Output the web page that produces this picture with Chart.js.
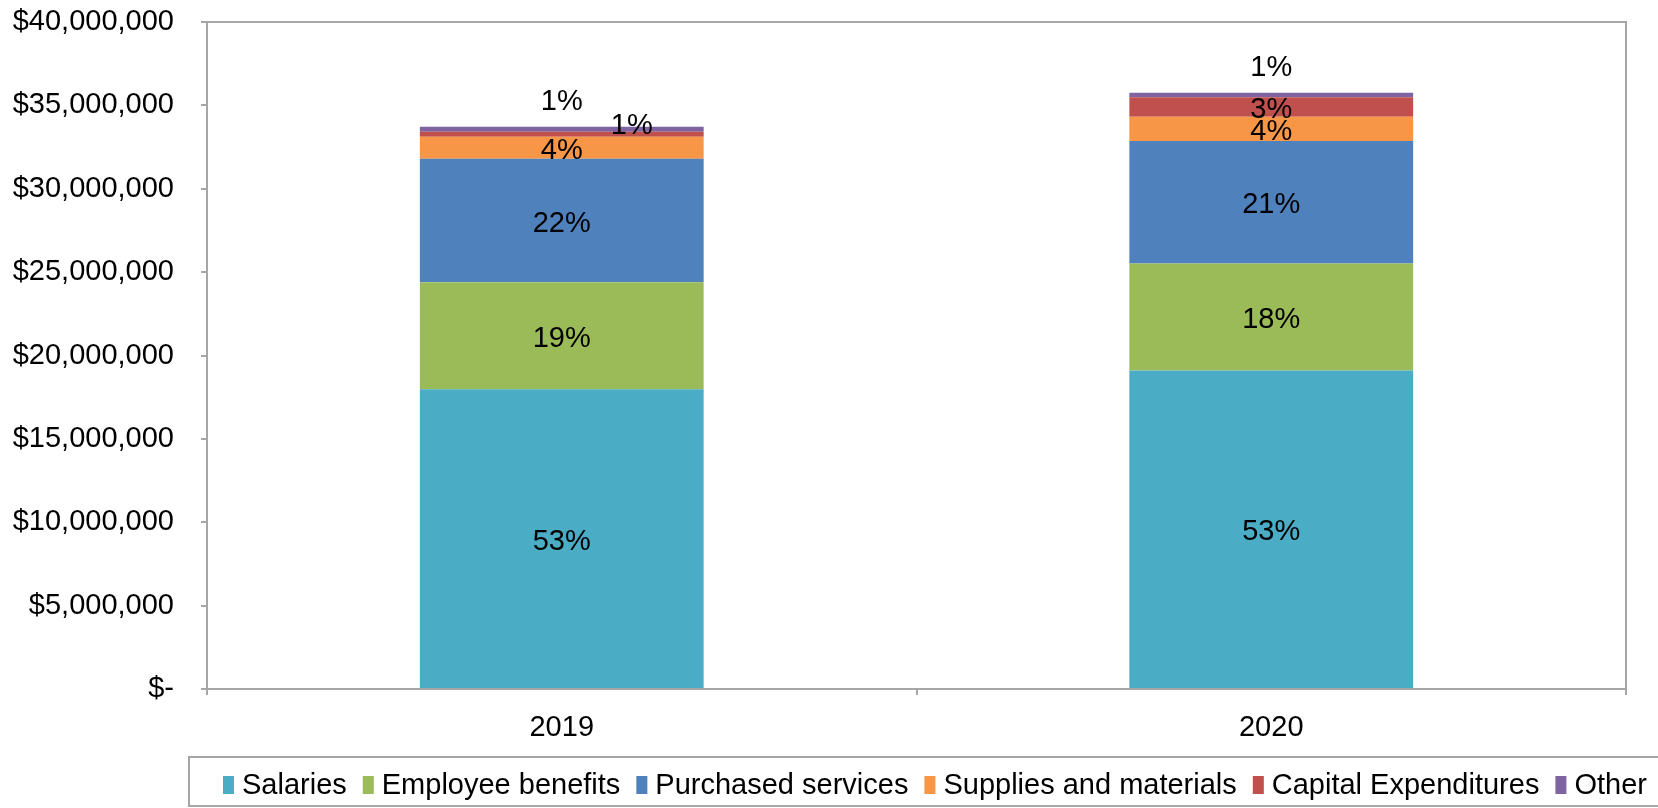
<!DOCTYPE html>
<html>
<head>
<meta charset="utf-8">
<script src="https://cdn.jsdelivr.net/npm/chart.js@4.4.1/dist/chart.umd.min.js"></script>
<style>
  html, body { margin: 0; padding: 0; background: #fff; overflow: hidden; }
  #wrap { width: 1658px; height: 808px; position: relative; }
</style>
</head>
<body>
<div id="wrap"><canvas id="cost-chart"></canvas></div>
<script>
// values (dollars)
const years = ['2019', '2020'];
const salaries = [17970000, 19100000];
const benefits = [6420000, 6420000];
const purchased = [7410000, 7340000];
const supplies = [1320000, 1460000];
const capital = [300000, 1160000];
const other = [300000, 280000];
const yTicks = [0, 5000000, 10000000, 15000000, 20000000, 25000000, 30000000, 35000000, 40000000];

const FONT = 'Liberation Sans, Arial, sans-serif';
const AXIS_GRAY = '#a6a6a6';

// total per year, used for the % labels
const totals = years.map((y, i) =>
  salaries[i] + benefits[i] + purchased[i] + supplies[i] + capital[i] + other[i]);

// label nudges for the thin segments (dataset-index)
const labelNudge = {
  '4-0': [70, -11],
};

const pctLabels = {
  id: 'pctLabels',
  afterDatasetsDraw(chart) {
    const ctx = chart.ctx;
    ctx.save();
    ctx.font = '29px ' + FONT;
    ctx.fillStyle = '#000';
    ctx.textAlign = 'center';
    ctx.textBaseline = 'middle';
    chart.data.datasets.forEach((ds, i) => {
      const meta = chart.getDatasetMeta(i);
      meta.data.forEach((bar, j) => {
        const pct = Math.round(ds.data[j] / totals[j] * 100) + '%';
        let x = bar.x;
        let y = (bar.y + bar.base) / 2 + 3;
        if (ds.label === 'Other') {
          y = bar.y - 25;
        }
        const n = labelNudge[i + '-' + j];
        if (n) { x += n[0]; y += n[1]; }
        ctx.fillText(pct, x, y);
      });
    });
    ctx.restore();
  }
};

// top + right edge of the plot box
const plotBox = {
  id: 'plotBox',
  beforeDatasetsDraw(chart) {
    const a = chart.chartArea;
    const ctx = chart.ctx;
    ctx.save();
    ctx.strokeStyle = AXIS_GRAY;
    ctx.lineWidth = 2;
    ctx.beginPath();
    ctx.moveTo(a.left, a.top);
    ctx.lineTo(a.right, a.top);
    ctx.lineTo(a.right, a.bottom);
    ctx.stroke();
    ctx.restore();
  }
};

// Excel-style legend box at the bottom, runs past the right edge
const boxLegend = {
  id: 'boxLegend',
  afterDraw(chart) {
    const ctx = chart.ctx;
    ctx.save();
    ctx.strokeStyle = AXIS_GRAY;
    ctx.lineWidth = 2;
    ctx.strokeRect(189, 757, 1600, 49);
    ctx.font = '29px ' + FONT;
    ctx.textBaseline = 'middle';
    ctx.textAlign = 'left';
    let x = 223;
    chart.data.datasets.forEach(ds => {
      ctx.fillStyle = ds.backgroundColor;
      ctx.fillRect(x, 776, 11, 18);
      ctx.fillStyle = '#000';
      ctx.fillText(ds.label, x + 19, 786);
      x += 19 + ctx.measureText(ds.label).width + 16;
    });
    ctx.restore();
  }
};

const ctx = document.getElementById('cost-chart');
const costChart = new Chart(ctx, {
  type: 'bar',
  data: {
    labels: years,
    datasets: [
      { label: 'Salaries', data: salaries, backgroundColor: '#4bacc6' },
      { label: 'Employee benefits', data: benefits, backgroundColor: '#9bbb59' },
      { label: 'Purchased services', data: purchased, backgroundColor: '#4f81bd' },
      { label: 'Supplies and materials', data: supplies, backgroundColor: '#f79646' },
      { label: 'Capital Expenditures', data: capital, backgroundColor: '#c0504d' },
      { label: 'Other', data: other, backgroundColor: '#8064a2' },
    ]
  },
  options: {
    responsive: true,
    maintainAspectRatio: false,
    animation: false,
    barPercentage: 0.4,
    categoryPercentage: 1,
    layout: { padding: { left: 0, right: 32, top: 22, bottom: 66 } },
    plugins: {
      legend: { display: false },
      tooltip: { enabled: false },
    },
    scales: {
      x: {
        stacked: true,
        afterFit: s => { s.height = 53; },
        grid: { drawOnChartArea: false, tickLength: 6, color: AXIS_GRAY, lineWidth: 2 },
        border: { color: AXIS_GRAY, width: 2 },
        ticks: { color: '#000', font: { family: FONT, size: 29 }, padding: 16 },
      },
      y: {
        stacked: true,
        min: 0,
        max: 40000000,
        afterFit: s => { s.width = 207; s.paddingTop = 0; s.paddingBottom = 0; },
        afterBuildTicks: s => { s.ticks = yTicks.map(v => ({ value: v })); },
        grid: { drawOnChartArea: false, tickLength: 6, color: AXIS_GRAY, lineWidth: 2 },
        border: { color: AXIS_GRAY, width: 2 },
        ticks: {
          color: '#000',
          padding: 27,
          font: { family: FONT, size: 29 },
          callback: v => v === 0 ? '$-' : '$' + v.toLocaleString('en-US'),
        },
      },
    },
  },
  plugins: [plotBox, pctLabels, boxLegend],
});
</script>
</body>
</html>
